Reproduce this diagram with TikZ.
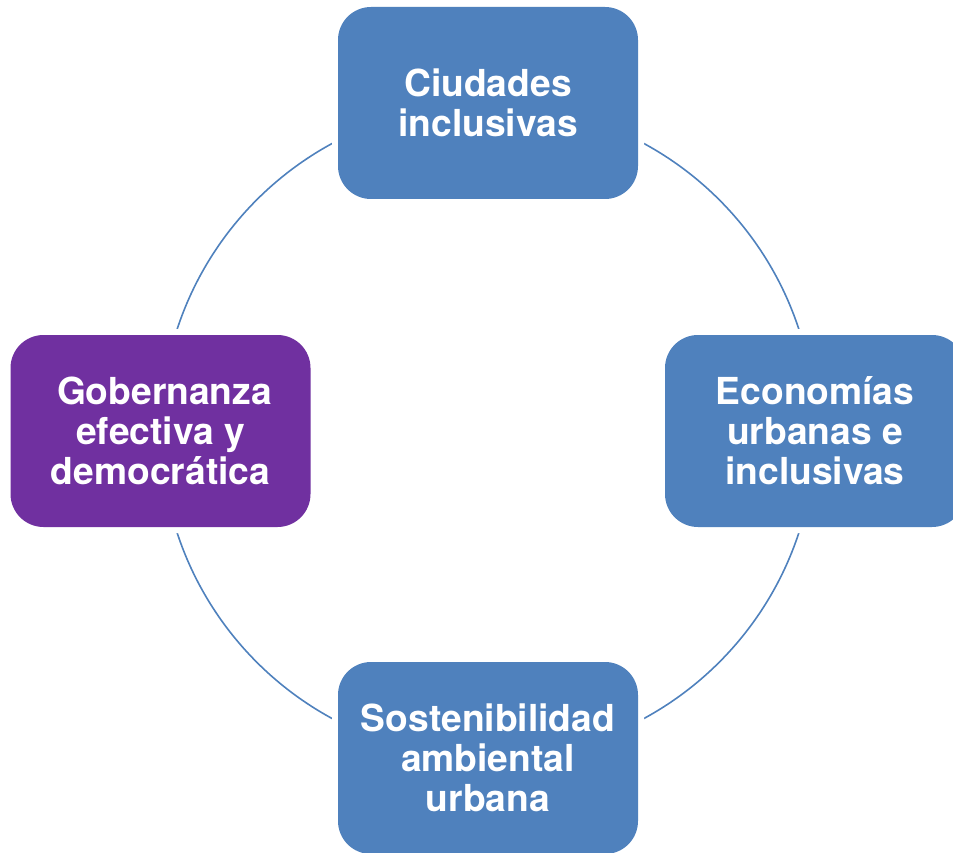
\documentclass[tikz,border=0pt]{standalone}
\usepackage{fontspec}
\setmainfont{TeX Gyre Heros}
\definecolor{boxblue}{HTML}{4F81BD}
\definecolor{boxpurple}{HTML}{7030A0}
\begin{document}
\begin{tikzpicture}[x=1pt,y=-1pt,
  cardbox/.style={rounded corners=33pt, minimum width=300pt, minimum height=192pt,
    inner sep=0pt, text=white, align=center,
    font=\fontsize{37.2}{40}\selectfont\bfseries,
    preaction={draw=white, line width=12pt}},
  ring/.style={draw=boxblue, line width=1.6pt}]
\useasboundingbox (0,0) rectangle (953,853);
\coordinate (c) at (488,431);
\draw[ring] (c) circle (327pt);
\node[cardbox, fill=boxblue] (top) at (488,103) {Ciudades\\inclusivas};
\node[cardbox, fill=boxblue] (right) at (815,431) {Economías\\urbanas e\\inclusivas};
\node[cardbox, fill=boxblue] (bottom) at (488,758) {Sostenibilidad\\ambiental\\urbana};
\node[cardbox, fill=boxpurple] (left) at (160.5,431) {\hspace{8pt}Gobernanza\\efectiva y\\democrática};
\end{tikzpicture}
\end{document}
